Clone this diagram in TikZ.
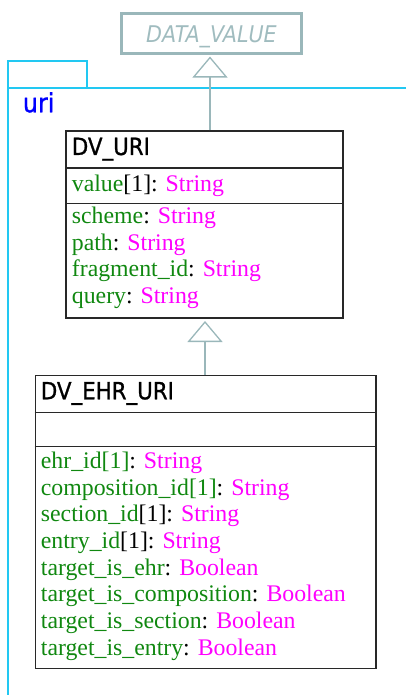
\documentclass[tikz,border=0pt]{standalone}
\usepackage{fontspec}
\setmainfont{Liberation Serif}
\newfontfamily\titlefont[FakeStretch=0.9, FakeBold=1]{DejaVu Sans}
\newfontfamily\dvfont[FakeStretch=0.9]{DejaVu Sans}
\usetikzlibrary{arrows.meta}
\definecolor{pkg}{RGB}{34,200,242}
\definecolor{genc}{RGB}{154,183,186}
\definecolor{attr}{RGB}{16,136,16}
\definecolor{typ}{RGB}{255,0,255}
\definecolor{dvtext}{RGB}{160,188,191}
\definecolor{border}{RGB}{40,40,40}
\definecolor{pkgname}{RGB}{0,0,255}
\begin{document}
\begin{tikzpicture}[x=1pt,y=-1pt,
 classbox/.style={draw=border, line width=1.2pt, inner sep=0pt, rectangle},
 sepline/.style={draw=border, line width=1pt},
 pkgline/.style={draw=pkg, line width=2pt},
 title/.style={anchor=base west, inner sep=0pt, font=\titlefont\fontsize{23.7}{26}\selectfont},
 attrtext/.style={anchor=base west, inner sep=0pt, font=\fontsize{23.8}{26}\selectfont, text=attr},
 genline/.style={draw=genc, line width=2pt, -{Triangle[open, length=21pt, width=35pt, line width=1.3pt]}},
]
\useasboundingbox (0,0) rectangle (406,695);

% package frame
\draw[pkgline] (8.3,88.3) -- (8.3,60.7) -- (87,60.7) -- (87,88.3);
\draw[pkgline] (8.3,695) -- (8.3,88.3) -- (406,88.3);
\node[anchor=base west, inner sep=0pt, text=pkgname, font=\titlefont\fontsize{26.5}{28}\selectfont] (pkglabel) at (22.7,112.3) {uri};

% DATA_VALUE
\node[draw=genc, line width=2.5pt, minimum width=179.6pt, minimum height=40pt, inner sep=0pt,
      text height=18.8pt, text depth=0pt, text=dvtext,
      font=\dvfont\itshape\fontsize{23}{26}\selectfont] (datavalue) at (211.5,33.3) {DATA\_VALUE};

% DV_URI
\node[classbox, minimum width=277pt, minimum height=187pt] (dvuri) at (204.5,224.5) {};
\draw[sepline] (dvuri.west |- 0,168) -- (dvuri.east |- 0,168);
\draw[sepline] (dvuri.west |- 0,203) -- (dvuri.east |- 0,203);
\node[title] (dvurititle) at (71.7,155) {DV\_URI};
\node[attrtext] (u1) at (71.7,191) {value\textcolor{black}{[1]:} \textcolor{typ}{String}};
\node[attrtext] (u2) at (71.7,223.3) {scheme\textcolor{black}{:} \textcolor{typ}{String}};
\node[attrtext] (u3) at (71.7,250) {path\textcolor{black}{:} \textcolor{typ}{String}};
\node[attrtext] (u4) at (71.7,276.7) {fragment\_id\textcolor{black}{:} \textcolor{typ}{String}};
\node[attrtext] (u5) at (71.7,303.3) {query\textcolor{black}{:} \textcolor{typ}{String}};

% DV_EHR_URI
\node[classbox, minimum width=340.7pt, minimum height=292.6pt] (dvehr) at (205.65,522) {};
\draw[sepline] (dvehr.west |- 0,412.7) -- (dvehr.east |- 0,412.7);
\draw[sepline] (dvehr.west |- 0,446.7) -- (dvehr.east |- 0,446.7);
\node[title] (dvehrtitle) at (40.7,399.3) {DV\_EHR\_URI};
\node[attrtext] (e1) at (40.7,468.3) {ehr\_id[1]\textcolor{black}{:} \textcolor{typ}{String}};
\node[attrtext] (e2) at (40.7,495) {composition\_id[1]\textcolor{black}{:} \textcolor{typ}{String}};
\node[attrtext] (e3) at (40.7,521.7) {section\_id\textcolor{black}{[1]:} \textcolor{typ}{String}};
\node[attrtext] (e4) at (40.7,548.3) {entry\_id\textcolor{black}{[1]:} \textcolor{typ}{String}};
\node[attrtext] (e5) at (40.7,575) {target\_is\_ehr\textcolor{black}{:} \textcolor{typ}{Boolean}};
\node[attrtext] (e6) at (40.7,601.7) {target\_is\_composition\textcolor{black}{:} \textcolor{typ}{Boolean}};
\node[attrtext] (e7) at (40.7,628.3) {target\_is\_section\textcolor{black}{:} \textcolor{typ}{Boolean}};
\node[attrtext] (e8) at (40.7,655) {target\_is\_entry\textcolor{black}{:} \textcolor{typ}{Boolean}};

% generalizations
\draw[genline, shorten >=2pt] ([xshift=5.5pt]dvuri.north) -- ([xshift=-1.5pt]datavalue.south);
\draw[genline, shorten >=2.4pt] ([xshift=-0.65pt]dvehr.north) -- ([xshift=0.5pt]dvuri.south);
\end{tikzpicture}
\end{document}
